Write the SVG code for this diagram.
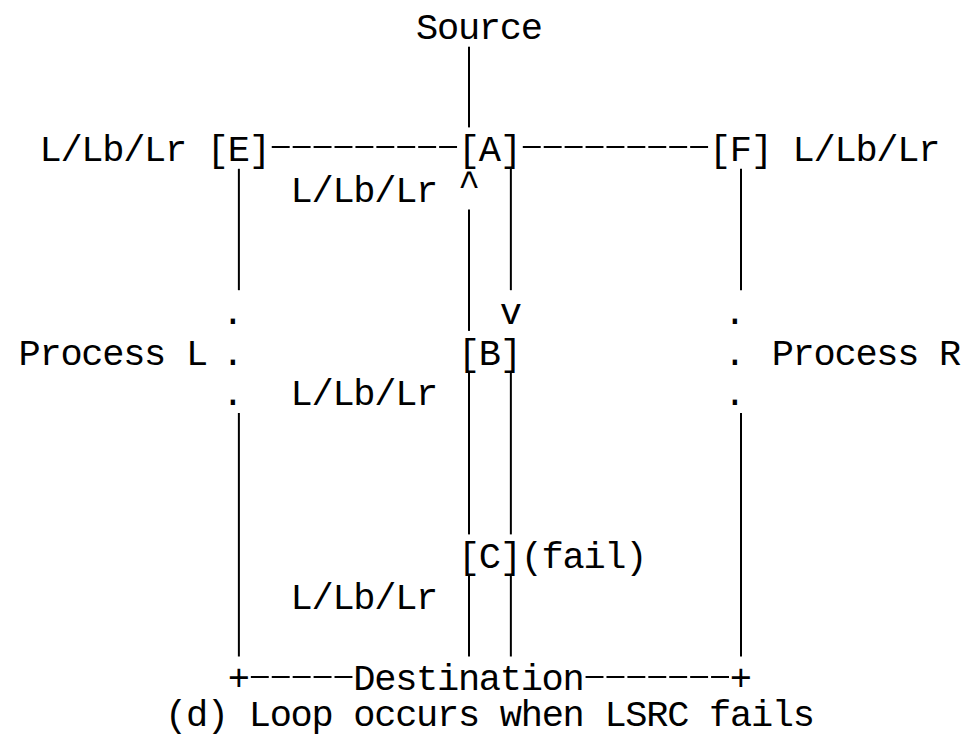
<svg xmlns="http://www.w3.org/2000/svg" width="964" height="738" viewBox="0 0 964 738">
  <style>
    /* monospace grid: 20.92px per column, 40.7px per row */
    .t { font-family: "Liberation Mono", "DejaVu Sans Mono", monospace; font-size: 37px; letter-spacing: -1.28px; fill: #000; }
    .v { stroke: #000; stroke-width: 2; fill: none; }
    .h { stroke: #000; stroke-width: 2; fill: none; stroke-dasharray: 17.92 3; }
  </style>
  <rect width="964" height="738" fill="#fff"/>

  <!-- connectors: vertical bars, dashed runs, elision dots, corners and arrow marks -->
  <g id="connectors">
    <!-- Source down to A -->
    <line class="v" x1="469.02" y1="46.7" x2="469.02" y2="127.4"/>
    <!-- E / F side columns -->
    <line class="v" x1="238.88" y1="168.8" x2="238.88" y2="290.2"/>
    <line class="v" x1="238.88" y1="413" x2="238.88" y2="656.5"/>
    <line class="v" x1="741" y1="168.8" x2="741" y2="290.2"/>
    <line class="v" x1="741" y1="413" x2="741" y2="656.5"/>
    <!-- upward path (left bar of the A-B-C pair) -->
    <line class="v" x1="469.02" y1="209.5" x2="469.02" y2="330.9"/>
    <line class="v" x1="469.02" y1="372.3" x2="469.02" y2="534.4"/>
    <line class="v" x1="469.02" y1="575.8" x2="469.02" y2="656.5"/>
    <!-- downward path (right bar) -->
    <line class="v" x1="510.86" y1="168.8" x2="510.86" y2="290.2"/>
    <line class="v" x1="510.86" y1="372.3" x2="510.86" y2="534.4"/>
    <line class="v" x1="510.86" y1="575.8" x2="510.86" y2="656.5"/>
    <!-- E - A - F horizontal runs -->
    <line class="h" x1="271.76" y1="147" x2="457.04" y2="147"/>
    <line class="h" x1="522.8" y1="147" x2="708.1" y2="147"/>
    <!-- bottom run into Destination -->
    <line class="h" x1="250.84" y1="677" x2="352.44" y2="677"/>
    <line class="h" x1="585.56" y1="677" x2="729" y2="677"/>
    <!-- arrow marks -->
    <text class="t" x="457.9" y="196">^</text>
    <text class="t" x="499.74" y="323.9">v</text>
    <!-- elided segments -->
    <text class="t" x="221.78" y="323.9">.</text>
    <text class="t" x="221.78" y="364.6">.</text>
    <text class="t" x="221.78" y="405.3">.</text>
    <text class="t" x="723.86" y="323.9">.</text>
    <text class="t" x="723.86" y="364.6">.</text>
    <text class="t" x="723.86" y="405.3">.</text>
    <!-- corners -->
    <text class="t" x="227.78" y="690.2">+</text>
    <text class="t" x="729.86" y="690.2">+</text>
  </g>

  <g id="source"><text class="t" x="416.06" y="39">Source</text></g>
  <g id="node-a"><text class="t" x="457.9" y="161.1">[A]</text></g>
  <g id="node-e"><text class="t" x="206.86" y="161.1">[E]</text></g>
  <g id="node-f"><text class="t" x="708.94" y="161.1">[F]</text></g>
  <g id="node-b"><text class="t" x="457.9" y="364.6">[B]</text></g>
  <g id="node-c"><text class="t" x="457.9" y="568.1">[C]</text></g>
  <g id="destination"><text class="t" x="353.3" y="690.2">Destination</text></g>

  <g id="labels">
    <text class="t" x="39.5" y="161.1">L/Lb/Lr</text>
    <text class="t" x="792.62" y="161.1">L/Lb/Lr</text>
    <text class="t" x="290.54" y="201.8">L/Lb/Lr</text>
    <text class="t" x="290.54" y="405.3">L/Lb/Lr</text>
    <text class="t" x="290.54" y="608.8">L/Lb/Lr</text>
    <text class="t" x="18.58" y="364.6">Process L</text>
    <text class="t" x="771.7" y="364.6">Process R</text>
    <text class="t" x="520.66" y="568.1">(fail)</text>
  </g>

  <g id="caption">
    <text class="t" x="165.02" y="726">(d) Loop occurs when LSRC fails</text>
  </g>
</svg>
